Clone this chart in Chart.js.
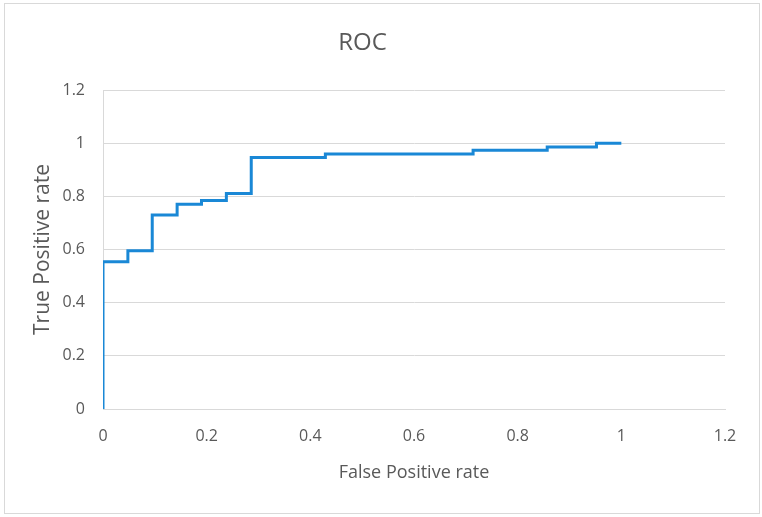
<!DOCTYPE html>
<html>
<head>
<meta charset="utf-8">
<script src="https://cdn.jsdelivr.net/npm/chart.js@4"></script>
<style>
  body { margin: 0; background: #fff; }
  .wrap { position: relative; width: 762px; height: 517px; }
  .frame { position: absolute; left: 4px; top: 3px; width: 754px; height: 509px; border: 1px solid #d9d9d9; }
  canvas { position: absolute; left: 0; top: 0; }
</style>
</head>
<body>
<div class="wrap">
  <div class="frame"></div>
  <canvas id="rocChart" width="762" height="517"></canvas>
</div>
<script>
// ROC points (false positive rate, true positive rate)
const fpr = [0, 0, 0.048, 0.095, 0.143, 0.190, 0.238, 0.286, 0.429, 0.714, 0.857, 0.952, 1];
const tpr = [0, 0.554, 0.595, 0.730, 0.770, 0.784, 0.811, 0.946, 0.959, 0.973, 0.986, 1, 1];
const xTicks = ["0", "0.2", "0.4", "0.6", "0.8", "1", "1.2"];
const yTicks = ["0", "0.2", "0.4", "0.6", "0.8", "1", "1.2"];

const grey = "#595959";
const gridGrey = "#d9d9d9";
Chart.defaults.font.family = "'Open Sans', sans-serif";

const points = fpr.map((x, i) => ({ x: x, y: tpr[i] }));

const ctx = document.getElementById("rocChart").getContext("2d");

new Chart(ctx, {
  type: "line",
  data: {
    datasets: [
      {
        label: "ROC",
        data: points,
        borderColor: "#1a88d6",
        borderWidth: 3,
        pointRadius: 0,
        stepped: "before",
        fill: false
      }
    ]
  },
  options: {
    responsive: false,
    animation: false,
    devicePixelRatio: 1,
    layout: { padding: { left: 0, right: 37, top: 0, bottom: 0 } },
    plugins: {
      legend: { display: false },
      tooltip: { enabled: false },
      title: {
        display: true,
        text: "ROC",
        color: grey,
        font: { size: 24, weight: "normal" },
        padding: { top: 29, bottom: 32.2 }
      }
    },
    scales: {
      x: {
        type: "linear",
        min: 0,
        max: 1.2,
        afterFit: s => { s.height = 108; },
        ticks: {
          stepSize: 0.2,
          color: grey,
          font: { size: 16 },
          padding: 18,
          maxRotation: 0,
          callback: (v, i) => xTicks[i]
        },
        grid: { display: false, drawTicks: false },
        border: { display: true, color: gridGrey },
        title: {
          display: true,
          text: "False Positive rate",
          color: grey,
          font: { size: 18 },
          padding: { top: 0, bottom: 33.2 }
        }
      },
      y: {
        min: 0,
        max: 1.2,
        afterFit: s => { s.width = 103; },
        ticks: {
          stepSize: 0.2,
          color: grey,
          font: { size: 16 },
          padding: 18,
          callback: (v, i) => yTicks[i]
        },
        grid: { color: gridGrey, drawTicks: false },
        border: { display: true, color: gridGrey },
        title: {
          display: true,
          text: "True Positive rate",
          color: grey,
          font: { size: 21 },
          padding: { top: 30.4, bottom: 0 }
        }
      }
    }
  }
});
</script>
</body>
</html>
